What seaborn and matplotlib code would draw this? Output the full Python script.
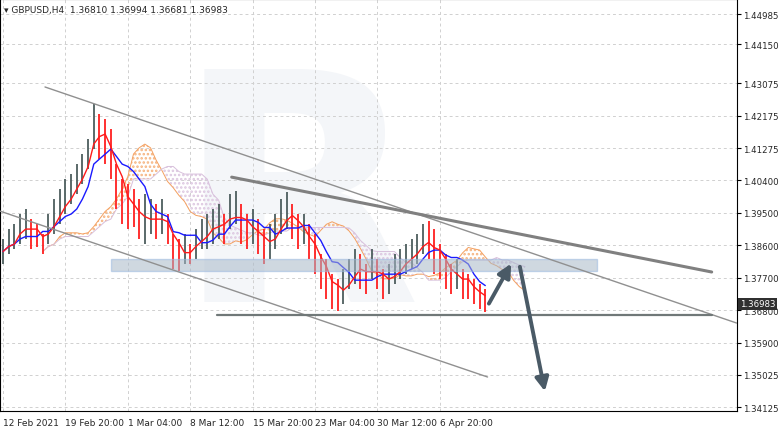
import numpy as np
import pandas as pd
import matplotlib
matplotlib.use("Agg")
import matplotlib.pyplot as plt
import seaborn as sns

# ---- data (16h bars) ----
HIGHS = [1.3877, 1.3905, 1.3918, 1.3946, 1.3960, 1.3932, 1.3918, 1.3891, 1.3946, 1.3987,
         1.4015, 1.4043, 1.4056, 1.4084, 1.4112, 1.4153, 1.4250, 1.4222, 1.4208, 1.4181,
         1.4084, 1.4043, 1.4029, 1.4015, 1.3987, 1.4001, 1.3987, 1.3973, 1.3987, 1.3946,
         1.3891, 1.3877, 1.3891, 1.3863, 1.3905, 1.3932, 1.3946, 1.3960, 1.3973, 1.3946,
         1.4001, 1.4010, 1.3973, 1.3946, 1.3960, 1.3932, 1.3905, 1.3918, 1.3946, 1.3987,
         1.4007, 1.3973, 1.3946, 1.3946, 1.3918, 1.3891, 1.3836, 1.3822, 1.3780, 1.3766,
         1.3794, 1.3822, 1.3849, 1.3836, 1.3808, 1.3849, 1.3822, 1.3794, 1.3808, 1.3836,
         1.3849, 1.3863, 1.3877, 1.3891, 1.3918, 1.3927, 1.3905, 1.3863, 1.3836, 1.3808,
         1.3822, 1.3794, 1.3780, 1.3766, 1.3753, 1.3739]
LOWS = [1.3808, 1.3836, 1.3849, 1.3863, 1.3877, 1.3849, 1.3855, 1.3836, 1.3863, 1.3891,
        1.3918, 1.3946, 1.3973, 1.4001, 1.4029, 1.4070, 1.4126, 1.4098, 1.4084, 1.4043,
        1.3960, 1.3918, 1.3905, 1.3910, 1.3877, 1.3863, 1.3891, 1.3877, 1.3891, 1.3863,
        1.3794, 1.3788, 1.3808, 1.3808, 1.3822, 1.3849, 1.3849, 1.3863, 1.3877, 1.3863,
        1.3905, 1.3918, 1.3863, 1.3849, 1.3863, 1.3836, 1.3808, 1.3822, 1.3849, 1.3891,
        1.3905, 1.3877, 1.3849, 1.3863, 1.3822, 1.3780, 1.3739, 1.3711, 1.3683, 1.3678,
        1.3697, 1.3739, 1.3753, 1.3739, 1.3725, 1.3766, 1.3739, 1.3711, 1.3725, 1.3753,
        1.3766, 1.3780, 1.3794, 1.3808, 1.3836, 1.3822, 1.3780, 1.3766, 1.3739, 1.3725,
        1.3739, 1.3711, 1.3711, 1.3697, 1.3683, 1.3675]

X_TICK_POS = [0, 11, 22, 33, 44, 55, 66, 77]
X_TICK_LABELS = ["12 Feb 2021", "19 Feb 20:00", "1 Mar 04:00", "8 Mar 12:00",
                 "15 Mar 20:00", "23 Mar 04:00", "30 Mar 12:00", "6 Apr 20:00"]
Y_TICKS = [1.34125, 1.35025, 1.35900, 1.36800, 1.37700, 1.38600, 1.39500,
           1.40400, 1.41275, 1.42175, 1.43075, 1.44150, 1.44985]

# drawn analysis: (bar index, price) pairs
UPPER_CHANNEL = [(7.4, 1.4297), (129.3, 1.3645)]
LOWER_CHANNEL = [(-0.5, 1.3954), (85.4, 1.3496)]
RESISTANCE = [(40.3, 1.4048), (124.9, 1.3786)]
SUPPORT = [(37.7, 1.3667), (124.9, 1.3667)]
ZONE = [(19.1, 1.3788), (104.7, 1.3822)]
ARROW_UP = [(85.4, 1.3692), (89.8, 1.3816)]
ARROW_DOWN = [(91.0, 1.3808), (95.6, 1.3449)]
LAST_PRICE = 1.36983

hi = np.array(HIGHS)
lo = np.array(LOWS)
n = len(hi)
idx = np.arange(n)
mid = (hi + lo) / 2
bull = np.r_[True, mid[1:] >= mid[:-1]]

# ichimoku-style lines computed from the bars (periods scaled to 16h bars)
s_hi = pd.Series(hi)
s_lo = pd.Series(lo)


def donchian_mid(w):
    return ((s_hi.rolling(w, min_periods=1).max() + s_lo.rolling(w, min_periods=1).min()) / 2).values


tenkan = donchian_mid(3)
kijun = donchian_mid(7)
span_a = (tenkan + kijun) / 2
span_b = donchian_mid(13)
cloud_x = idx + 7

sns.set_style("white")
plt.rcParams['font.family'] = ['DejaVu Sans']
plt.rcParams['hatch.linewidth'] = 1.2
fig = plt.figure(figsize=(7.82, 4.31), dpi=100)
ax = fig.add_axes([0.0, 0.044, 0.942, 0.956])

ax.text(52, 1.395, "R", fontsize=230, fontweight="bold", color="#f4f6f9",
        ha="center", va="center", zorder=0)

ax.fill_between(cloud_x, span_a, span_b, where=span_a >= span_b, interpolate=True,
                facecolor="none", edgecolor="#f6b27c", hatch="....", linewidth=0, zorder=1)
ax.fill_between(cloud_x, span_a, span_b, where=span_a < span_b, interpolate=True,
                facecolor="none", edgecolor="#dcc6e0", hatch="....", linewidth=0, zorder=1)
ax.plot(cloud_x, span_a, color="#f4a060", lw=0.7, zorder=1)
ax.plot(cloud_x, span_b, color="#d8c0dc", lw=0.7, zorder=1)

# bars
colors = np.where(bull, "#4d5e5e", "#ff2020")
ax.vlines(idx, lo, hi, colors=colors, lw=1.3, zorder=3)

sns.lineplot(x=idx, y=kijun, color="#1a1aff", lw=1.0, ax=ax, zorder=4)
sns.lineplot(x=idx, y=tenkan, color="#ff1a1a", lw=1.0, ax=ax, zorder=4)

(zx0, zy0), (zx1, zy1) = ZONE
ax.add_patch(plt.Rectangle((zx0, zy0), zx1 - zx0, zy1 - zy0, facecolor="#a8b8c8",
                           edgecolor="#9ab8e0", alpha=0.55, lw=1, zorder=5))

for line, c, w in [(UPPER_CHANNEL, "#909090", 1.0), (LOWER_CHANNEL, "#909090", 1.0),
                   (RESISTANCE, "#808080", 2.2), (SUPPORT, "#707878", 1.6)]:
    ax.plot([p[0] for p in line], [p[1] for p in line], color=c, lw=w, zorder=6)

for arr in (ARROW_UP, ARROW_DOWN):
    ax.annotate("", xy=arr[1], xytext=arr[0],
                arrowprops=dict(arrowstyle="-|>,head_length=0.8,head_width=0.4",
                                color="#4a5a66", lw=2.8), zorder=7)

ax.set_xlim(-0.53, 129.3)
ax.set_ylim(1.3402, 1.4540)
ax.set_xticks(X_TICK_POS)
ax.set_xticklabels(X_TICK_LABELS, fontsize=6.5, ha="left")
ax.set_yticks(Y_TICKS)
ax.set_yticklabels([f"{t:.5f}" for t in Y_TICKS], fontsize=6.2)
ax.yaxis.tick_right()
ax.tick_params(axis="both", length=3, color="black", pad=2)
ax.tick_params(axis="y", pad=1.5)
ax.grid(True, color="#d0d0d0", ls=(0, (3, 3)), lw=0.7)
for s in ax.spines.values():
    s.set_color("black")
    s.set_linewidth(0.8)

ax.text(1.004, LAST_PRICE, f"{LAST_PRICE:.5f}", transform=ax.get_yaxis_transform(),
        fontsize=6.2, color="white", va="center", ha="left",
        bbox=dict(boxstyle="square,pad=0.2", fc="#303030", ec="none"), zorder=8)
ax.text(0.005, 0.985, "\u25be GBPUSD,H4  1.36810 1.36994 1.36681 1.36983",
        transform=ax.transAxes, fontsize=6.5, va="top", ha="left")

fig.savefig("out.png", dpi=100)
